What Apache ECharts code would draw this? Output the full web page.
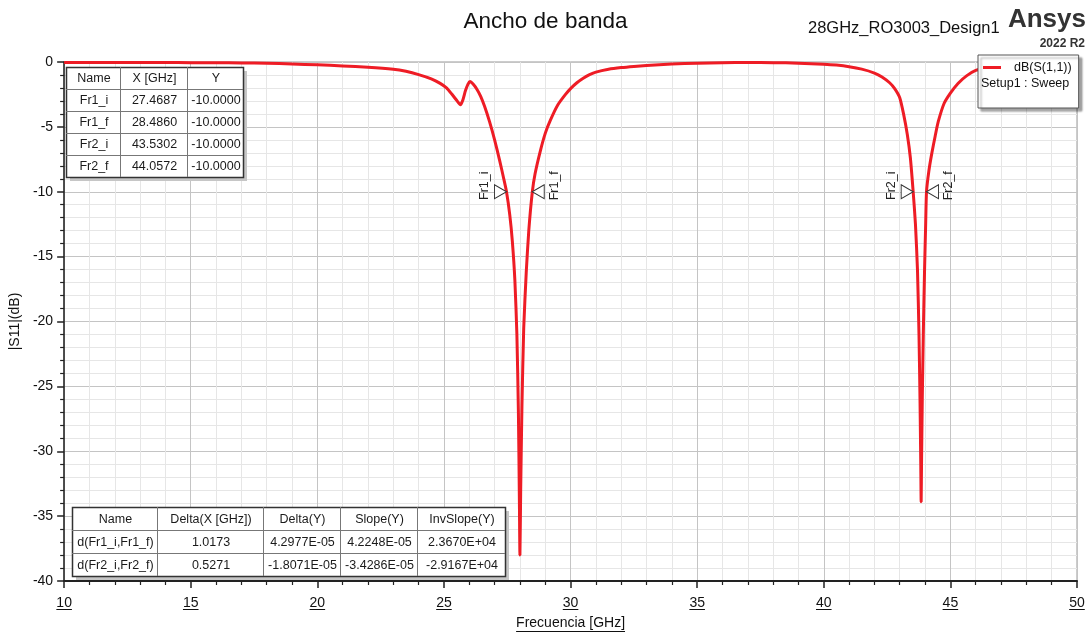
<!DOCTYPE html>
<html><head><meta charset="utf-8">
<script src="https://cdn.jsdelivr.net/npm/echarts@6/dist/echarts.min.js"></script>
<style>html,body{margin:0;padding:0;background:#fff}#c{width:1091px;height:635px}</style>
</head><body><div id="c"></div>
<script>
// ---- data ----
const freq = [10,11,12,13,14,15,16,17,18,19,20,21,22,23,23.5,24,24.5,24.85,25.1,25.3,25.5,25.65,25.75,25.85,25.95,26.03,26.15,26.3,26.45,26.6,26.8,27.0,27.2,27.35,27.47,27.6,27.7,27.8,27.88,27.94,27.98,28.0,28.03,28.08,28.15,28.25,28.35,28.49,28.6,28.8,29.0,29.2,29.5,29.8,30.0,30.25,30.5,30.75,31.0,31.5,32.0,32.5,33,34,35,36,37,38,39,40,40.5,41,41.5,42,42.3,42.6,42.8,43.0,43.15,43.3,43.42,43.53,43.62,43.7,43.76,43.8,43.83,43.845,43.86,43.89,43.93,43.98,44.02,44.057,44.15,44.26,44.4,44.52,44.75,45.0,45.3,45.65,46.0,46.5,47,48,49,50];
const s11 = [-0.04,-0.04,-0.04,-0.04,-0.04,-0.05,-0.05,-0.07,-0.10,-0.15,-0.22,-0.30,-0.40,-0.56,-0.72,-0.97,-1.30,-1.65,-2.00,-2.45,-2.95,-3.30,-2.90,-2.20,-1.70,-1.50,-1.70,-2.10,-2.65,-3.40,-4.60,-6.00,-7.60,-8.90,-10.0,-11.8,-13.8,-16.8,-21.0,-27.0,-34.0,-38.0,-33.0,-26.5,-20.5,-16.2,-13.0,-10.0,-8.6,-6.9,-5.5,-4.5,-3.3,-2.5,-2.05,-1.6,-1.25,-0.98,-0.78,-0.56,-0.43,-0.34,-0.27,-0.16,-0.09,-0.05,-0.04,-0.05,-0.09,-0.17,-0.24,-0.36,-0.55,-0.85,-1.15,-1.60,-2.05,-2.75,-4.00,-5.60,-7.40,-10.0,-12.5,-16.0,-21.0,-26.0,-31.0,-33.9,-31.0,-26.0,-21.0,-16.0,-12.8,-10.0,-8.4,-7.1,-5.7,-4.6,-3.2,-2.4,-1.65,-1.05,-0.65,-0.42,-0.30,-0.22,-0.20,-0.20];
const seriesName = 'dB(S(1,1))';
const markerNames = ['Fr1_i','Fr1_f','Fr2_i','Fr2_f'];
const markerX = [27.4687, 28.4860, 43.5302, 44.0572];
const markerY = [-10, -10, -10, -10];
const deltaNames = ['d(Fr1_i,Fr1_f)','d(Fr2_i,Fr2_f)'];
const deltaX = [1.0173, 0.5271];
const deltaY = [4.2977e-5, -1.8071e-5];
const slopeY = [4.2248e-5, -3.4286e-5];
const invSlopeY = [2.3670e4, -2.9167e4];
const xTicks = [10,15,20,25,30,35,40,45,50];

const FONT = '"Liberation Sans", Arial, sans-serif';
function fmtE(v){
  let s = v.toExponential(4);
  return s.replace(/e([+-])(\d+)$/, function(m,sg,d){ return 'E'+sg+(d.length<2?'0'+d:d); });
}

const chart = echarts.init(document.getElementById('c'), null, {renderer:'canvas'});

const triR = 'path://M0,0L12,7L0,14Z';
const triL = 'path://M12,0L0,7L12,14Z';
const markerData = markerNames.map(function(n,i){
  const right = /_i$/.test(n);
  return {
    name: n, value: [markerX[i], markerY[i]],
    symbol: right ? triR : triL,
    symbolOffset: right ? [-6,0] : [6,0],
    label: right
      ? {position:'left', distance:3, rotate:90, align:'center', verticalAlign:'bottom', offset:[6,0]}
      : {position:'right', distance:3, rotate:90, align:'center', verticalAlign:'top', offset:[6,0]}
  };
});

const option = {
  animation: false,
  backgroundColor: '#fff',
  title: {text:'Ancho de banda', left:'center', top:5,
    textStyle:{fontFamily:FONT, fontSize:22.5, fontWeight:'normal', color:'#111'}},
  grid: {left:64, right:14, top:62, bottom:53, show:true, borderColor:'#999', borderWidth:1, backgroundColor:'transparent'},
  legend: {
    data:[seriesName], left:978, top:55, orient:'vertical',
    padding:[6,7,34,5], icon:'rect', itemWidth:18, itemHeight:3,
    backgroundColor:'#fff', borderColor:'#555', borderWidth:1,
    shadowColor:'rgba(0,0,0,0.35)', shadowOffsetX:3, shadowOffsetY:3, shadowBlur:2,
    textStyle:{fontFamily:FONT, fontSize:12.5, color:'#111', padding:[0,0,0,8]},
    selectedMode:false
  },
  xAxis: {
    type:'value', min:10, max:50, interval:5,
    name:'Frecuencia [GHz]', nameLocation:'middle', nameGap:35,
    nameTextStyle:{fontFamily:FONT, fontSize:14, color:'#111'},
    axisLine:{show:true, onZero:false, lineStyle:{color:'#222', width:2}},
    axisTick:{show:true, length:7, lineStyle:{color:'#222', width:1.5}},
    minorTick:{show:true, splitNumber:5, length:4, lineStyle:{color:'#222', width:1.2}},
    axisLabel:{fontFamily:FONT, fontSize:14, color:'#111', margin:15},
    splitLine:{show:true, lineStyle:{color:'#c4c4c4', width:1}},
    minorSplitLine:{show:true, lineStyle:{color:'#e6e6e6', width:1}}
  },
  yAxis: {
    type:'value', min:-40, max:0, interval:5,
    name:'|S11|(dB)', nameLocation:'middle', nameGap:33,
    nameTextStyle:{fontFamily:FONT, fontSize:14, color:'#111'},
    axisLine:{show:true, onZero:false, lineStyle:{color:'#222', width:1.5}},
    axisTick:{show:true, length:7, lineStyle:{color:'#222', width:1.5}},
    minorTick:{show:true, splitNumber:5, length:4, lineStyle:{color:'#222', width:1.2}},
    axisLabel:{fontFamily:FONT, fontSize:14, color:'#111', margin:11},
    splitLine:{show:true, lineStyle:{color:'#c4c4c4', width:1}},
    minorSplitLine:{show:true, lineStyle:{color:'#e6e6e6', width:1}}
  },
  series: [
    {name:seriesName, type:'line', data: freq.map(function(f,i){return [f, s11[i]];}),
     showSymbol:false, smooth:0.2, lineStyle:{color:'#ee1c25', width:3}, itemStyle:{color:'#ee1c25'}, z:3},
    {name:'markers', type:'scatter', data: markerData, symbolSize:[12,14], z:5,
     itemStyle:{color:'#fff', borderColor:'#333', borderWidth:1, opacity:1},
     label:{show:true, formatter:'{b}', fontFamily:FONT, fontSize:12.5, color:'#222'},
     emphasis:{disabled:true}, silent:true}
  ]
};
chart.setOption(option);

function tableEls(x0,y0,cols,rh,rows,fs){
  const els=[]; const W=cols.reduce(function(a,b){return a+b;},0), H=rh*rows.length;
  els.push({type:'rect', shape:{x:x0+4,y:y0+4,width:W,height:H}, style:{fill:'#c6c6c6'}, z:100});
  els.push({type:'rect', shape:{x:x0+0.5,y:y0+0.5,width:W,height:H}, style:{fill:'#fff', stroke:'#333', lineWidth:1.5}, z:101});
  let cx=x0;
  for(let i=0;i<cols.length-1;i++){ cx+=cols[i];
    els.push({type:'line', shape:{x1:cx+0.5,y1:y0,x2:cx+0.5,y2:y0+H}, style:{stroke:'#777',lineWidth:1}, z:102}); }
  for(let r=1;r<rows.length;r++){ const yy=y0+r*rh+0.5;
    els.push({type:'line', shape:{x1:x0,y1:yy,x2:x0+W,y2:yy}, style:{stroke:'#777',lineWidth:1}, z:102}); }
  rows.forEach(function(row,r){ let cx2=x0;
    row.forEach(function(t,c){
      els.push({type:'text', x:cx2+cols[c]/2+1, y:y0+r*rh+rh/2+1,
        style:{text:t, fill:'#1a1a1a', fontFamily:FONT, fontSize:fs, align:'center', verticalAlign:'middle'}, z:103});
      cx2+=cols[c]; });
  });
  return els;
}

const mRows = [['Name','X [GHz]','Y']].concat(markerNames.map(function(n,i){
  return [n, markerX[i].toFixed(4), markerY[i].toFixed(4)]; }));
const dRows = [['Name','Delta(X [GHz])','Delta(Y)','Slope(Y)','InvSlope(Y)']].concat(deltaNames.map(function(n,i){
  return [n, deltaX[i].toFixed(4), fmtE(deltaY[i]), fmtE(slopeY[i]), fmtE(invSlopeY[i])]; }));

let els = [];
els = els.concat(tableEls(66,67,[54,67,56],22,mRows,12.5));
els = els.concat(tableEls(72,507,[85,106,77,77,88],23,dRows,12.5));

// header texts
els.push({type:'text', x:808, y:20, style:{text:'28GHz_RO3003_Design1', fill:'#111', fontFamily:FONT, fontSize:16.5}, z:100});
els.push({type:'text', x:1086, y:7, style:{text:'Ansys', fill:'#333', fontFamily:FONT, fontSize:26, fontWeight:'bold', align:'right'}, z:100});
els.push({type:'text', x:1085, y:38, style:{text:'2022 R2', fill:'#333', fontFamily:FONT, fontSize:12, fontWeight:'bold', align:'right'}, z:100});
// legend second line
els.push({type:'text', x:981, y:77, style:{text:'Setup1 : Sweep', fill:'#111', fontFamily:FONT, fontSize:12.5}, z:120});

// underlines for x tick labels and axis name
const ctx = document.createElement('canvas').getContext('2d');
ctx.font = '14px ' + FONT;
const bottomPx = chart.convertToPixel({yAxisIndex:0}, -40);
xTicks.forEach(function(v){
  const px = chart.convertToPixel({xAxisIndex:0}, v);
  const w = ctx.measureText(String(v)).width;
  els.push({type:'line', shape:{x1:px-w/2, y1:bottomPx+28.5, x2:px+w/2, y2:bottomPx+28.5}, style:{stroke:'#111', lineWidth:1}, z:100});
});
const midPx = (chart.convertToPixel({xAxisIndex:0},10)+chart.convertToPixel({xAxisIndex:0},50))/2;
const nw = ctx.measureText('Frecuencia [GHz]').width;
els.push({type:'line', shape:{x1:midPx-nw/2, y1:bottomPx+50.5, x2:midPx+nw/2, y2:bottomPx+50.5}, style:{stroke:'#111', lineWidth:1}, z:100});

chart.setOption({graphic:{elements:els}});
</script></body></html>
